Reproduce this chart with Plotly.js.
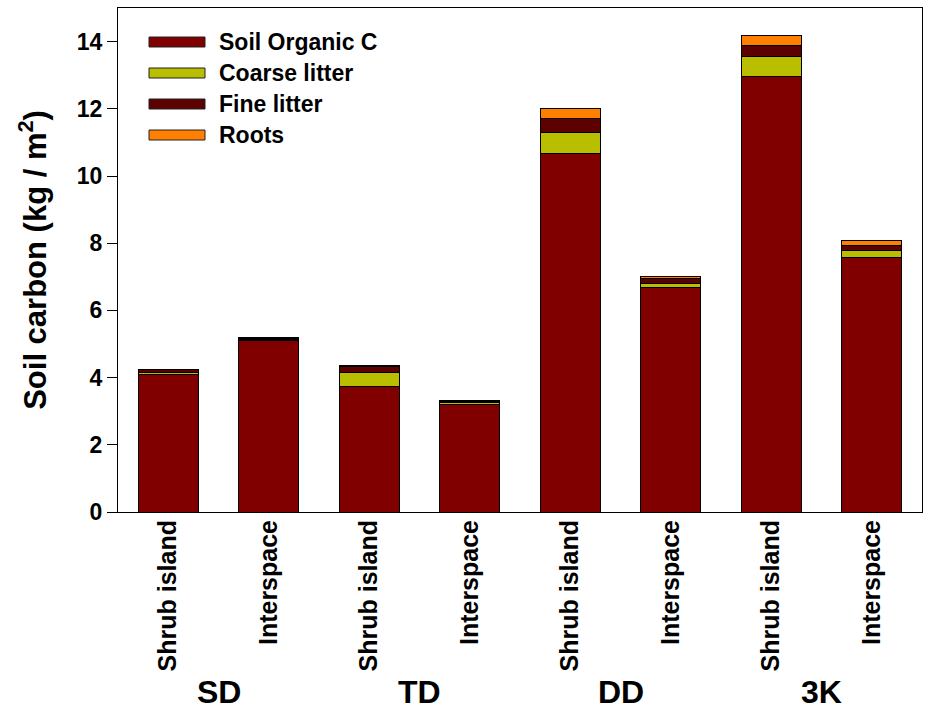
<!DOCTYPE html>
<html>
<head>
<meta charset="utf-8">
<script src="https://cdn.plot.ly/plotly-3.0.1.min.js"></script>
<style>html,body{margin:0;padding:0;background:#fff;}#chart{width:926px;height:710px;}</style>
</head>
<body>
<div id="chart"></div>
<script>
// ---- data ----
var sites = ['SD', 'TD', 'DD', '3K'];
var positions = ['Shrub island', 'Interspace', 'Shrub island', 'Interspace',
                 'Shrub island', 'Interspace', 'Shrub island', 'Interspace'];
var seriesNames = ['Soil Organic C', 'Coarse litter', 'Fine litter', 'Roots'];
var soilOrganicC = [4.09, 5.09, 3.75, 3.21, 10.67, 6.67, 12.97, 7.57];
var coarseLitter = [0.07, 0.04, 0.39, 0.05, 0.62, 0.14, 0.58, 0.21];
var fineLitter   = [0.08, 0.04, 0.18, 0.04, 0.42, 0.14, 0.34, 0.16];
var roots        = [0.01, 0.01, 0.04, 0.01, 0.29, 0.07, 0.30, 0.14];
var seriesColors = ['#800000', '#B9BF00', '#5C0000', '#FF8000'];
var yTicks = [0, 2, 4, 6, 8, 10, 12, 14];

var seriesValues = [soilOrganicC, coarseLitter, fineLitter, roots];
var idx = positions.map(function (_, i) { return i; });
function b(s) { return '<b>' + s + '</b>'; }

var font = 'Liberation Sans, Arial, Helvetica, sans-serif';

var traces = seriesValues.map(function (vals, k) {
  return {
    type: 'bar', x: idx, y: vals, name: seriesNames[k],
    marker: { color: seriesColors[k], line: { color: '#000', width: 1 } },
    width: 0.6, showlegend: false, hoverinfo: 'y'
  };
});

// plot area in pixels
var L = 118, R = 922, T = 8, B = 512;
function px(x) { return (x - L) / (R - L); }
function py(y) { return (B - y) / (B - T); }

var shapes = [], annotations = [];
// custom legend with wide swatches
var rowY = [42, 73, 104, 135];
seriesNames.forEach(function (n, k) {
  shapes.push({ type: 'rect', xref: 'paper', yref: 'paper',
    x0: px(149), x1: px(205), y0: py(rowY[k] + 5), y1: py(rowY[k] - 5),
    fillcolor: seriesColors[k], line: { color: '#222', width: 1 } });
  annotations.push({ xref: 'paper', yref: 'paper', x: px(217), y: py(rowY[k]),
    xanchor: 'left', yanchor: 'middle', showarrow: false, text: b(n),
    font: { family: font, size: 23, color: '#000' } });
});
// group labels
sites.forEach(function (s, k) {
  annotations.push({ xref: 'x', yref: 'paper', x: 2 * k + 0.5, y: py(692),
    xanchor: 'center', yanchor: 'middle', showarrow: false, text: b(s),
    font: { family: font, size: 32, color: '#000' } });
});

var layout = {
  width: 926, height: 710,
  margin: { l: L, r: 926 - R, t: T, b: 710 - B, pad: 0 },
  paper_bgcolor: '#fff', plot_bgcolor: '#fff',
  barmode: 'stack', bargap: 0.4,
  showlegend: false,
  xaxis: {
    range: [-0.5, 7.5], tickmode: 'array', tickvals: idx, ticktext: positions.map(b),
    tickangle: -90, ticks: '', showgrid: false, zeroline: false,
    showline: true, linecolor: '#000', linewidth: 1, mirror: true,
    tickfont: { family: font, size: 25, color: '#000' },
    ticklabelstandoff: -3,
    automargin: false
  },
  yaxis: {
    range: [0, 15], tickmode: 'array', tickvals: yTicks, ticktext: yTicks.map(function (v) { return b(v); }),
    ticks: 'outside', ticklen: 10, tickcolor: '#000', tickwidth: 1,
    showgrid: false, zeroline: false,
    showline: true, linecolor: '#000', linewidth: 1, mirror: true,
    tickfont: { family: font, size: 23, color: '#000' },
    title: { text: b('Soil carbon (kg / m<sup>2</sup>)'), standoff: 20,
             font: { family: font, size: 31, color: '#000' } },
    automargin: false
  },
  shapes: shapes,
  annotations: annotations
};

Plotly.newPlot('chart', traces, layout, { displayModeBar: false, staticPlot: true });
</script>
</body>
</html>
